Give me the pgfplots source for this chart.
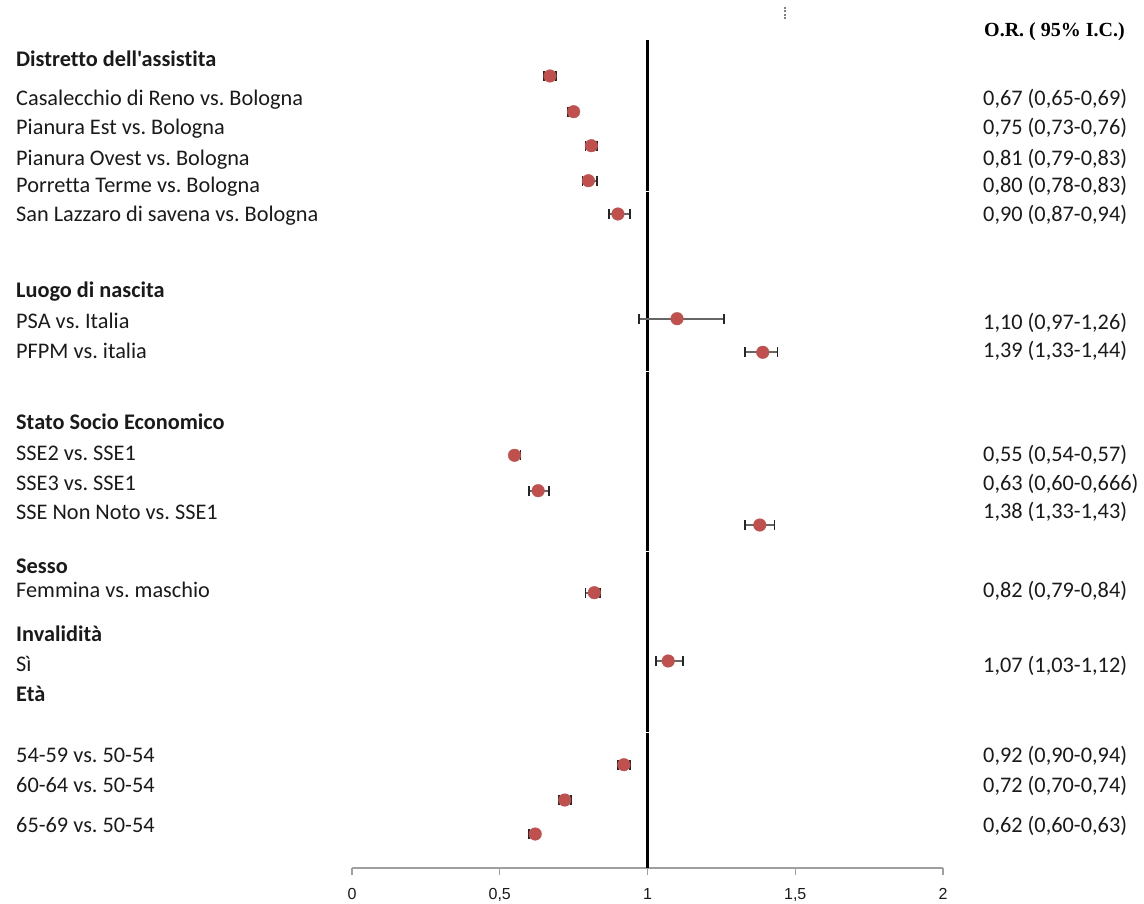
\documentclass[border=0pt]{standalone}
\usepackage{fontspec}
\setmainfont{Carlito}
\newfontfamily\lab{Carlito}[Ligatures=NoCommon]
\newfontfamily\serifhead{Liberation Serif}
\newfontfamily\tickfont{Liberation Sans}
\usepackage{pgfplots}
\usepackage{pgfplotstable}
\pgfplotsset{compat=1.18}
\definecolor{ptred}{HTML}{C0504D}
\definecolor{txt}{HTML}{1A1A1A}
\frenchspacing

\pgfplotstableread{
y or lo hi
76 0.67 0.65 0.69
111.7 0.75 0.73 0.76
145.7 0.81 0.79 0.83
180.7 0.80 0.78 0.83
214 0.90 0.87 0.94
318.7 1.10 0.97 1.26
352.3 1.39 1.33 1.44
455.3 0.55 0.54 0.57
490.7 0.63 0.60 0.666
525 1.38 1.33 1.43
592.7 0.82 0.79 0.84
661 1.07 1.03 1.12
764.7 0.92 0.90 0.94
800 0.72 0.70 0.74
834 0.62 0.60 0.63
}\ordata

\begin{document}
\begin{tikzpicture}
\useasboundingbox (0pt,0pt) rectangle (1144pt,904pt);
\begin{axis}[
  at={(352pt,36pt)}, anchor=south west,
  scale only axis, width=591pt, height=828pt,
  xmin=0, xmax=2, ymin=40, ymax=868, y dir=reverse,
  axis x line*=bottom, axis y line=none, ytick=\empty,
  xtick={0,0.5,1,1.5,2}, xticklabels={0,{0,5},1,{1,5},2},
  x axis line style={draw=gray!75, line width=1.5pt, -},
  tick style={draw=gray!75, line width=1.3pt},
  major tick length=7pt, tick align=outside,
  xticklabel style={font=\tickfont\fontsize{16}{18}\selectfont, text=txt, yshift=-10pt},
  clip=false,
]
\addplot[black, line width=2.5pt] coordinates {(1,40) (1,868)};
\draw[white, line width=1pt] (axis cs:0.98,192) -- (axis cs:1.02,192);
\draw[white, line width=1pt] (axis cs:0.98,371) -- (axis cs:1.02,371);
\draw[white, line width=1pt] (axis cs:0.98,551) -- (axis cs:1.02,551);
\draw[white, line width=1pt] (axis cs:0.98,732) -- (axis cs:1.02,732);
\addplot[only marks, mark=none, forget plot,
  error bars/.cd, x dir=both, x explicit,
  error bar style={draw=black!60, solid, line width=2pt},
  error mark options={draw=black!85, solid, line width=1.8pt, mark size=5pt, rotate=90}]
  table[x=or, y=y, x error plus expr=\thisrow{hi}-\thisrow{or}, x error minus expr=\thisrow{or}-\thisrow{lo}] {\ordata};
\addplot[only marks, mark=*, mark size=6.3pt, color=ptred, mark options={draw=ptred, fill=ptred}]
  table[x=or, y=y] {\ordata};
\end{axis}

\draw[gray, dash pattern=on 2pt off 1.5pt, line width=1.2pt] (785pt,897pt) -- (785pt,885pt);

\begin{scope}[every node/.style={anchor=base west, inner sep=0pt, text=txt, font=\lab\fontsize{22.3}{26}\selectfont}]
\node at (16pt,837pt) {\bfseries Distretto dell'assistita};
\node at (16pt,798pt) {Casalecchio di Reno vs. Bologna};
\node at (16pt,769pt) {Pianura Est vs. Bologna};
\node at (16pt,738pt) {Pianura Ovest vs. Bologna};
\node at (16pt,711pt) {Porretta Terme vs. Bologna};
\node at (16pt,682pt) {San Lazzaro di savena vs. Bologna};
\node at (16pt,606pt) {\bfseries Luogo di nascita};
\node at (16pt,575pt) {PSA vs. Italia};
\node at (16pt,545pt) {PFPM vs. italia};
\node at (16pt,474pt) {\bfseries Stato Socio Economico};
\node at (16pt,443pt) {SSE2 vs. SSE1};
\node at (16pt,413pt) {SSE3 vs. SSE1};
\node at (16pt,384pt) {SSE Non Noto vs. SSE1};
\node at (16pt,330pt) {\bfseries Sesso};
\node at (16pt,306pt) {Femmina vs. maschio};
\node at (16pt,262pt) {\bfseries Invalidità};
\node at (16pt,232pt) {Sì};
\node at (16pt,202pt) {\bfseries Età};
\node at (16pt,141pt) {54-59 vs. 50-54};
\node at (16pt,111pt) {60-64 vs. 50-54};
\node at (16pt,71pt) {65-69 vs. 50-54};

\node[font=\serifhead\bfseries\fontsize{20}{23}\selectfont, text=black] at (984pt,867pt) {O.R. ( 95\% I.C.)};
\node at (983pt,798pt) {0,67 (0,65-0,69)};
\node at (983pt,769pt) {0,75 (0,73-0,76)};
\node at (983pt,738pt) {0,81 (0,79-0,83)};
\node at (983pt,711pt) {0,80 (0,78-0,83)};
\node at (983pt,682pt) {0,90 (0,87-0,94)};
\node at (983pt,574pt) {1,10 (0,97-1,26)};
\node at (983pt,546pt) {1,39 (1,33-1,44)};
\node at (983pt,442pt) {0,55 (0,54-0,57)};
\node at (983pt,413pt) {0,63 (0,60-0,666)};
\node at (983pt,385pt) {1,38 (1,33-1,43)};
\node at (983pt,306pt) {0,82 (0,79-0,84)};
\node at (983pt,231pt) {1,07 (1,03-1,12)};
\node at (983pt,141pt) {0,92 (0,90-0,94)};
\node at (983pt,111pt) {0,72 (0,70-0,74)};
\node at (983pt,71pt) {0,62 (0,60-0,63)};
\end{scope}
\end{tikzpicture}
\end{document}
